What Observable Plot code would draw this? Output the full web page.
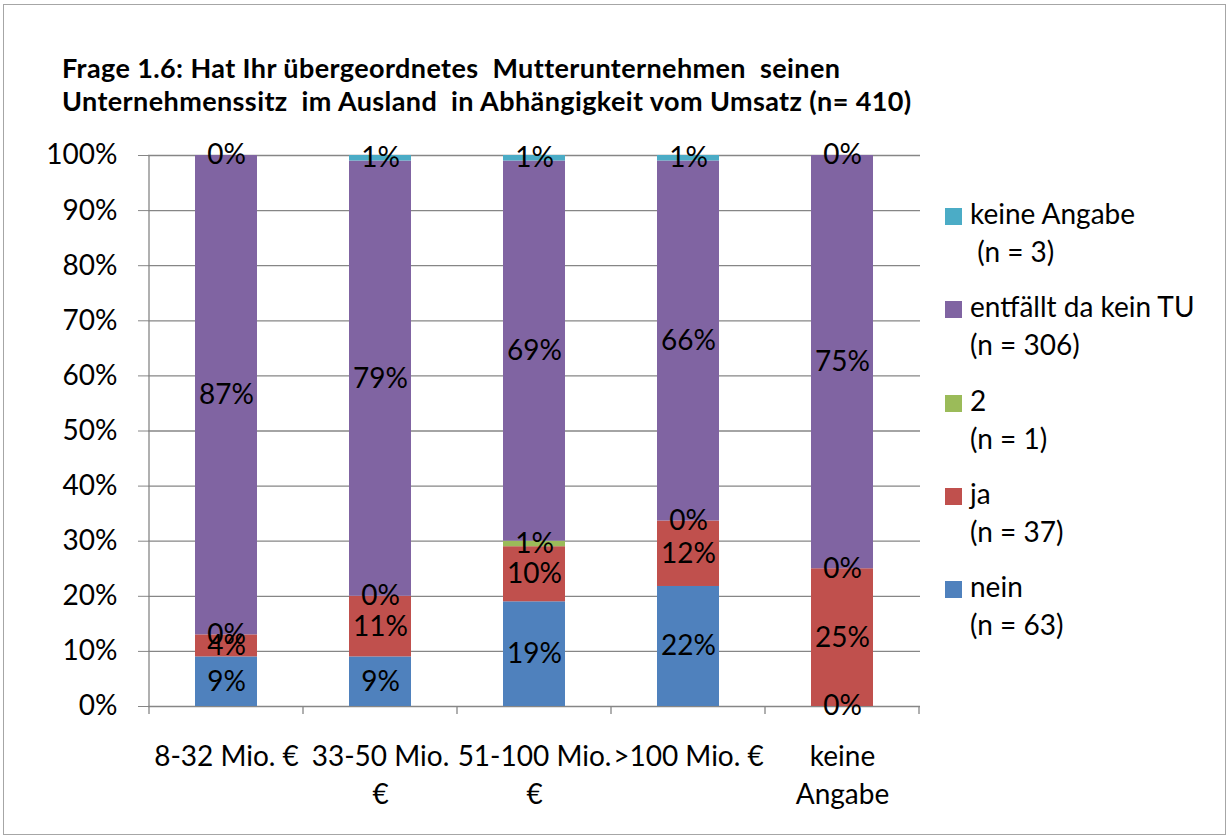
<!DOCTYPE html>
<html>
<head>
<meta charset="utf-8">
<script src="https://cdn.jsdelivr.net/npm/d3@7"></script>
<script src="https://cdn.jsdelivr.net/npm/@observablehq/plot@0.6"></script>
<style>
  html, body { margin: 0; padding: 0; background: #fff; }
  #wrap { position: relative; width: 1229px; height: 838px; font-family: Lato, "Open Sans", sans-serif; }
  #frame { position: absolute; left: 3px; top: 4px; width: 1221px; height: 829px; border: 1px solid #a6a6a6; pointer-events: none; }
  #title { position: absolute; left: 62px; top: 51px; font-size: 27px; line-height: 33px; letter-spacing: 0.4px; font-weight: bold; white-space: pre; color: #000; }
  .lg { position: absolute; left: 945px; }
  .lg .sw { position: absolute; left: 0; top: 14px; width: 17px; height: 17px; }
  .lg .tx { position: absolute; left: 25px; top: 0; font-size: 28px; line-height: 38px; white-space: pre; color: #000; }
  #chart { position: absolute; left: 0; top: 0; }
</style>
</head>
<body>
<div id="wrap">
  <div id="chart"></div>
  <div id="title"></div>
  <div id="legend"></div>
  <div id="frame"></div>
</div>
<script>
// ---- data ----
const titleLines = [
  "Frage 1.6: Hat Ihr übergeordnetes  Mutterunternehmen  seinen",
  "Unternehmenssitz  im Ausland  in Abhängigkeit vom Umsatz (n= 410)"
];
const categories = ["8-32 Mio. €", "33-50 Mio. €", "51-100 Mio. €", ">100 Mio. €", "keine Angabe"];
const categoryTickLabels = ["8-32 Mio. €", "33-50 Mio.\n€", "51-100 Mio.\n€", ">100 Mio. €", "keine\nAngabe"];
// stacking order bottom -> top
const seriesNames = ["nein", "ja", "2", "entfällt da kein TU", "keine Angabe"];
const seriesN = ["(n = 63)", "(n = 37)", "(n = 1)", "(n = 306)", " (n = 3)"];
const seriesColors = ["#4F81BD", "#C0504D", "#9BBB59", "#8064A2", "#4BACC6"];
// percentages per category (same order as categories)
const nein      = [9, 9, 19, 22, 0];
const ja        = [4, 11, 10, 12, 25];
const zwei      = [0, 0, 1, 0, 0];
const entfaellt = [87, 79, 69, 66, 75];
const keine     = [0, 1, 1, 1, 0];
const yTicks = [0, 0.1, 0.2, 0.3, 0.4, 0.5, 0.6, 0.7, 0.8, 0.9, 1.0];

const seriesValues = [nein, ja, zwei, entfaellt, keine];
const data = [];
categories.forEach((c, i) => {
  seriesNames.forEach((s, j) => data.push({cat: c, series: s, value: seriesValues[j][i]}));
});

const stackOpts = {offset: "normalize", order: seriesNames};

const chart = Plot.plot({
  width: 1229,
  height: 838,
  marginLeft: 148,
  marginRight: 309,
  marginTop: 155,
  marginBottom: 132,
  style: {fontFamily: "Lato, 'Open Sans', sans-serif", fontSize: "28px", background: "transparent", color: "#000"},
  x: {domain: categories, paddingInner: 0.6, paddingOuter: 0.3, axis: null},
  y: {domain: [0, 1], axis: null},
  color: {domain: seriesNames, range: seriesColors},
  marks: [
    Plot.gridY(yTicks, {stroke: "#868686", strokeOpacity: 1, strokeWidth: 1.3}),
    Plot.barY(data, Plot.stackY(stackOpts, {x: "cat", y: "value", z: "series", fill: "series"})),
    Plot.text(data, Plot.stackY(stackOpts, {x: "cat", y: "value", z: "series", text: d => d.value + "%", fill: "#000", fontSize: 28})),
    Plot.axisY(yTicks, {tickFormat: d3.format(".0%"), tickSize: 10, tickPadding: 21, stroke: "#868686", fontSize: 28, fill: "#000", label: null}),
    Plot.axisX({tickSize: 0, tickPadding: 32, tickFormat: (d) => categoryTickLabels[categories.indexOf(d)], fontSize: 28, lineHeight: 1.36, fill: "#000", label: null})
  ]
});
document.getElementById("chart").appendChild(chart);

// axis line and category boundary ticks from the plot's scales
const xs = chart.scale("x"), ys = chart.scale("y");
const svg = d3.select(chart);
const y0 = ys.apply(0), y1 = ys.apply(1);
const gap = (xs.step - xs.bandwidth) / 2;
const bounds = categories.map(c => xs.apply(c) - gap);
bounds.push(xs.apply(categories[categories.length - 1]) + xs.bandwidth + gap);
const g = svg.append("g").attr("stroke", "#868686").attr("stroke-width", 1.3);
g.append("line").attr("x1", bounds[0]).attr("x2", bounds[0]).attr("y1", y1).attr("y2", y0);
bounds.forEach(b => g.append("line").attr("x1", b).attr("x2", b).attr("y1", y0).attr("y2", y0 + 8));

// title
document.getElementById("title").textContent = titleLines.join("\n");

// legend (top -> bottom is reverse stacking order)
const legend = document.getElementById("legend");
seriesNames.slice().reverse().forEach((s, k) => {
  const j = seriesNames.length - 1 - k;
  const item = document.createElement("div");
  item.className = "lg";
  item.style.top = (194 + 93.3 * k) + "px";
  item.innerHTML = `<div class="sw" style="background:${seriesColors[j]}"></div><div class="tx"></div>`;
  item.querySelector(".tx").textContent = s + "\n" + seriesN[j];
  legend.appendChild(item);
});
</script>
</body>
</html>
